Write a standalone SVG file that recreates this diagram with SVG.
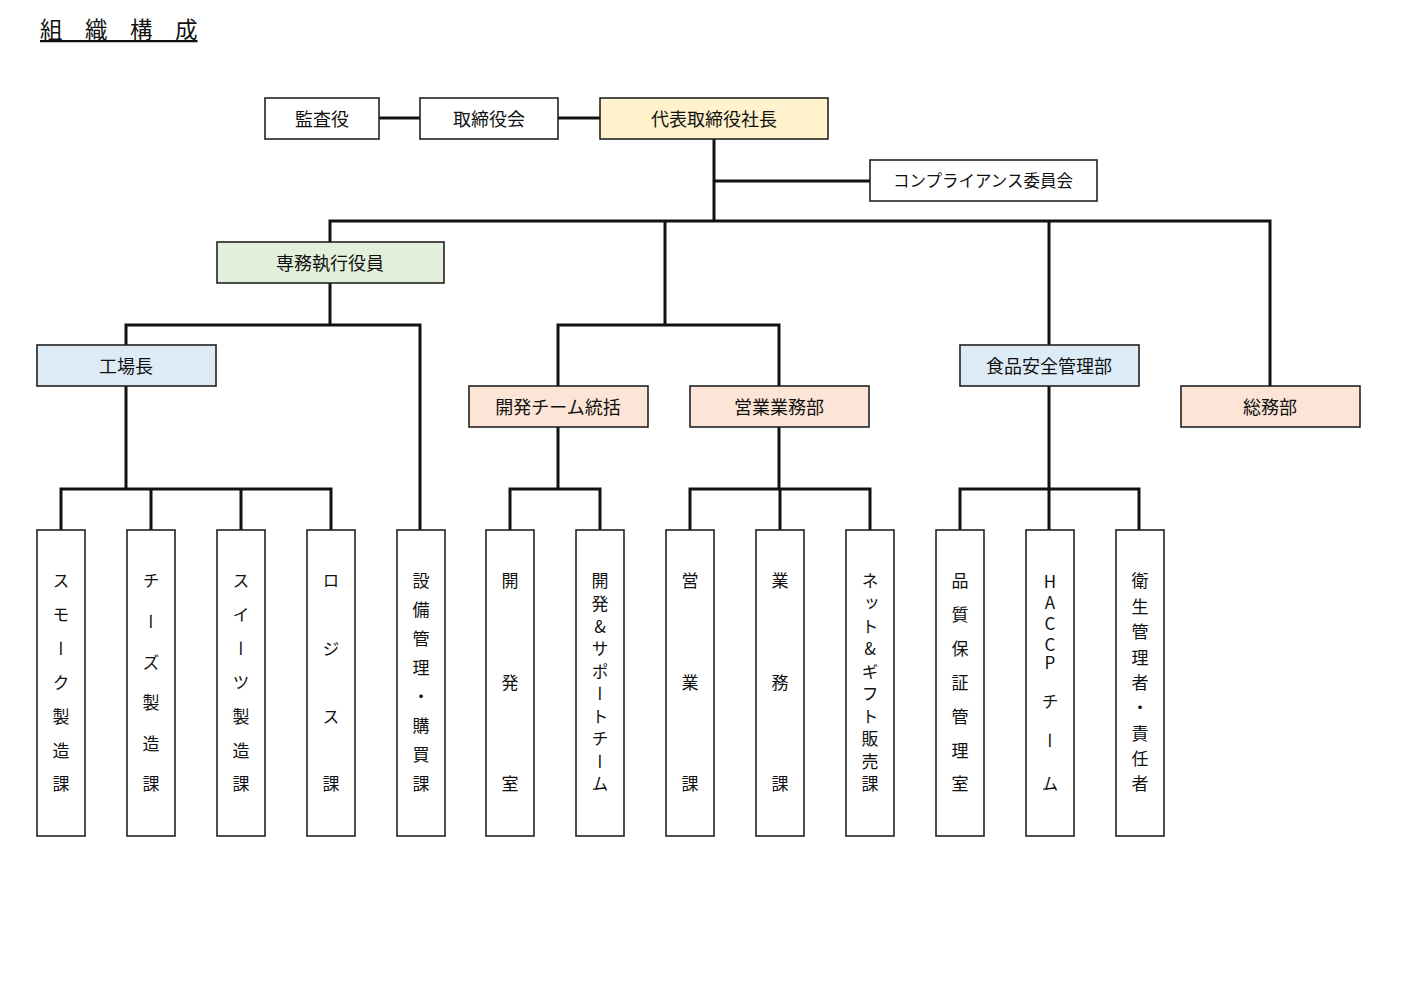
<svg xmlns="http://www.w3.org/2000/svg" width="1404" height="993" viewBox="0 0 1404 993">
<style>
.b{stroke:#222;stroke-width:1.6;fill:#fff}
.y{fill:#FFF2CC}.g{fill:#E2EFDA}.bl{fill:#DDEBF7}.p{fill:#FCE4D6}
.t{font-family:"Noto Sans CJK JP","Noto Sans",sans-serif;font-size:18px;fill:#111;text-anchor:middle;dominant-baseline:central}
.v{font-family:"Noto Sans CJK JP","Noto Sans",sans-serif;font-size:17px;fill:#111;text-anchor:middle;writing-mode:vertical-rl;text-orientation:upright}
.c{fill:none;stroke:#111;stroke-width:3}
</style>
<rect width="1404" height="993" fill="#fff"/>
<text x="40" y="38" style="font-family:'Noto Sans CJK JP',sans-serif;font-size:22.5px;fill:#111;text-decoration:underline">組　織　構　成</text>
<g id="connectors" class="c">
<path d="M379,118H420M558,118H600"/>
<path d="M714,139V221M714,181H870"/>
<path d="M330,242V221H1270V386M665,221V325M1049,221V345"/>
<path d="M330,283V325M126,345V325H420V530"/>
<path d="M558,386V325H779V386"/>
<path d="M126,386V489M61,530V489H331V530M151,489V530M241,489V530"/>
<path d="M558,427V489M510,530V489H600V530"/>
<path d="M779,427V489M690,530V489H870V530M780,489V530"/>
<path d="M1049,386V489M960,530V489H1139V530M1049,489V530"/>
</g>
<g id="n-kansa"><rect class="b" x="265" y="98" width="114" height="41"/><text class="t" x="322" y="117.5">監査役</text></g>
<g id="n-torishimari"><rect class="b" x="420" y="98" width="138" height="41"/><text class="t" x="489" y="117.5">取締役会</text></g>
<g id="n-shacho"><rect class="b y" x="600" y="98" width="228" height="41"/><text class="t" x="714" y="117.5">代表取締役社長</text></g>
<g id="n-compliance"><rect class="b" x="870" y="160" width="227" height="41"/><text class="t" x="983" y="179.5" style="font-size:16.5px">コンプライアンス委員会</text></g>
<g id="n-senmu"><rect class="b g" x="217" y="242" width="227" height="41"/><text class="t" x="330" y="261.5">専務執行役員</text></g>
<g id="n-kojo"><rect class="b bl" x="37" y="345" width="179" height="41"/><text class="t" x="126" y="364.5">工場長</text></g>
<g id="n-kaihatsu"><rect class="b p" x="469" y="386" width="179" height="41"/><text class="t" x="558" y="405.5">開発チーム統括</text></g>
<g id="n-eigyo"><rect class="b p" x="690" y="386" width="179" height="41"/><text class="t" x="779" y="405.5">営業業務部</text></g>
<g id="n-shokuhin"><rect class="b bl" x="960" y="345" width="179" height="41"/><text class="t" x="1049" y="364.5">食品安全管理部</text></g>
<g id="n-somu"><rect class="b p" x="1181" y="386" width="179" height="41"/><text class="t" x="1270" y="405.5">総務部</text></g>
<g id="n-smoke"><rect class="b" x="37" y="530" width="48" height="306"/><text class="v" x="61" y="581 614.8 648.7 682.5 716.3 750.2 784">スモーク製造課</text></g>
<g id="n-cheese"><rect class="b" x="127" y="530" width="48" height="306"/><text class="v" x="151" y="581 621.6 662.2 702.8 743.4 784">チーズ製造課</text></g>
<g id="n-sweets"><rect class="b" x="217" y="530" width="48" height="306"/><text class="v" x="241" y="581 614.8 648.7 682.5 716.3 750.2 784">スイーツ製造課</text></g>
<g id="n-logi"><rect class="b" x="307" y="530" width="48" height="306"/><text class="v" x="331" y="581 648.7 716.3 784">ロジス課</text></g>
<g id="n-setsubi"><rect class="b" x="397" y="530" width="48" height="306"/><text class="v" x="421" y="581 610 639 668 697 726 755 784">設備管理・購買課</text></g>
<g id="n-kaihatsushitsu"><rect class="b" x="486" y="530" width="48" height="306"/><text class="v" x="510" y="581 682.5 784">開発室</text></g>
<g id="n-support"><rect class="b" x="576" y="530" width="48" height="306"/><text class="v" x="600" y="581 603.6 626.1 648.7 671.2 693.8 716.3 738.9 761.4 784">開発&amp;サポートチーム</text></g>
<g id="n-eigyoka"><rect class="b" x="666" y="530" width="48" height="306"/><text class="v" x="690" y="581 682.5 784">営業課</text></g>
<g id="n-gyomuka"><rect class="b" x="756" y="530" width="48" height="306"/><text class="v" x="780" y="581 682.5 784">業務課</text></g>
<g id="n-net"><rect class="b" x="846" y="530" width="48" height="306"/><text class="v" x="870" y="581 603.6 626.1 648.7 671.2 693.8 716.3 738.9 761.4 784">ネット&amp;ギフト販売課</text></g>
<g id="n-hinshitsu"><rect class="b" x="936" y="530" width="48" height="306"/><text class="v" x="960" y="581 614.8 648.7 682.5 716.3 750.2 784">品質保証管理室</text></g>
<g id="n-haccp"><rect class="b" x="1026" y="530" width="48" height="306"/><text class="v" x="1050" y="582 603 624 645 663 702 741 784">HACCPチーム</text></g>
<g id="n-eisei"><rect class="b" x="1116" y="530" width="48" height="306"/><text class="v" x="1140" y="581 606.4 631.75 657.1 682.5 707.9 733.25 758.6 784">衛生管理者・責任者</text></g>
</svg>
